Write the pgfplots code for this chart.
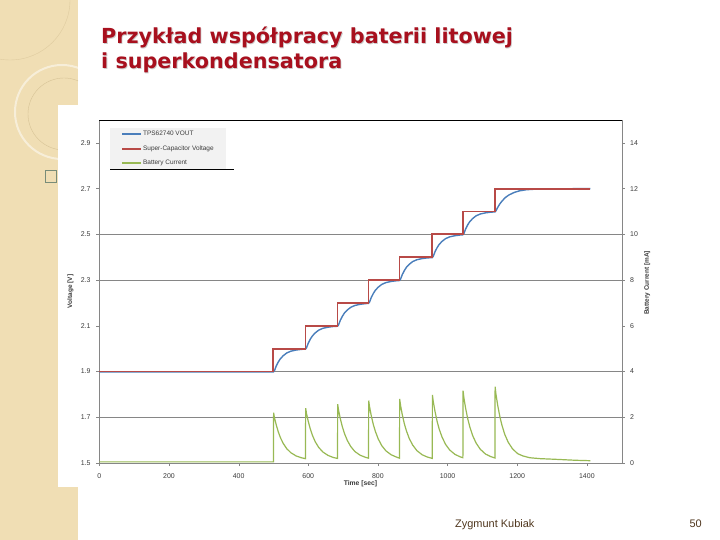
\documentclass[border=0pt]{standalone}
\usepackage{pgfplots}
\pgfplotsset{compat=1.18}
\usepackage{fontspec}
\setmainfont{Liberation Sans}
\newfontfamily\titlefont{DejaVu Sans}

\definecolor{strip}{RGB}{240,222,180}
\definecolor{stripline}{RGB}{215,195,150}
\definecolor{boxline}{RGB}{120,140,120}
\definecolor{titlered}{RGB}{168,16,30}
\definecolor{footbrown}{RGB}{80,55,30}
\definecolor{axisgray}{RGB}{134,134,134}
\definecolor{ticktext}{RGB}{60,60,60}
\definecolor{vout}{RGB}{74,126,187}
\definecolor{vcap}{RGB}{184,74,71}
\definecolor{ibat}{RGB}{152,185,84}
\definecolor{legfill}{RGB}{242,242,242}

\begin{document}
\begin{tikzpicture}
% slide
\fill[white] (0,0) rectangle (720bp,540bp);
\useasboundingbox (0,0) rectangle (720bp,540bp);
\fill[strip] (0,0) rectangle (78bp,540bp);
\begin{scope}
  \clip (0,0) rectangle (78bp,540bp);
  \draw[white,line width=2bp,opacity=0.5] (62bp,428bp) circle (47bp);
  \draw[stripline,line width=0.4bp] (64bp,426bp) circle (36bp);
  \draw[stripline,line width=0.4bp,opacity=0.7] (10bp,540bp) circle (60bp);
\end{scope}
\fill[white] (58bp,53bp) rectangle (100bp,435bp);
\draw[boxline,line width=0.6bp] (45.5bp,358bp) rectangle (56.5bp,369.5bp);

% title
\foreach \dx/\col/\op in {0.8bp/black/0.2, 0bp/titlered/1} {
  \node[anchor=base west,inner sep=0,text=\col,text opacity=\op,font=\titlefont\bfseries\fontsize{20.8}{25}\selectfont]
    at ([xshift=\dx,yshift=-\dx]101bp,496bp) {Przykład współpracy baterii litowej};
  \node[anchor=base west,inner sep=0,text=\col,text opacity=\op,font=\titlefont\bfseries\fontsize{20.8}{25}\selectfont]
    at ([xshift=\dx,yshift=-\dx]101bp,471bp) {i superkondensatora};
}

% footer
\node[anchor=base west,inner sep=0,text=footbrown,font=\fontsize{11}{13}\selectfont] at (455bp,12.5bp) {Zygmunt Kubiak};
\node[anchor=base east,inner sep=0,text=footbrown,font=\fontsize{11}{13}\selectfont] at (702bp,12.5bp) {50};

% voltage axis
\begin{axis}[
  at={(99.3bp,77bp)}, anchor=south west, scale only axis,
  width=522.4bp, height=343bp,
  xmin=0, xmax=1500, ymin=1.5, ymax=3.0,
  axis x line*=bottom, axis y line*=left,
  axis line style={draw=axisgray}, tick style={draw=axisgray},
  tick align=outside, major tick length=3bp,
  xtick={0,200,400,600,800,1000,1200,1400},
  ytick={1.5,1.7,1.9,2.1,2.3,2.5,2.7,2.9},
  yticklabels={1.5,1.7,1.9,2.1,2.3,2.5,2.7,2.9},
  extra y ticks={1.7,1.9,2.3,2.5}, extra y tick labels={},
  extra y tick style={grid=major},
  major grid style={draw=axisgray,line width=0.6bp},
  /pgf/number format/assume math mode=true,
  /pgf/number format/1000 sep={},
  ticklabel style={font=\fontsize{7}{8}\selectfont,text=ticktext},
  yticklabel style={xshift=-2.3bp},
  xticklabel style={yshift=-4.4bp},
  xlabel={Time [sec]}, ylabel={Voltage [V]},
  xlabel style={at={(axis description cs:0.5,-0.061)},anchor=center,font=\bfseries\fontsize{6.8}{8}\selectfont,text=ticktext},
  ylabel style={at={(axis description cs:-0.055,0.5)},anchor=center,font=\bfseries\fontsize{6.5}{8}\selectfont,text=ticktext},
  clip=false,
]
\addplot[vout,line width=1.4bp] coordinates {
(0,1.898)(500,1.898)(503,1.904)(508,1.924)(514,1.942)(520,1.956)(528,1.969)(538,1.981)(550,1.989)(565,1.994)(580,1.997)(592,1.998)
(595,2.004)(600,2.024)(606,2.042)(612,2.056)(620,2.069)(630,2.081)(642,2.089)(657,2.094)(672,2.097)(684,2.098)
(687,2.104)(692,2.124)(698,2.142)(704,2.156)(712,2.169)(722,2.181)(734,2.189)(749,2.194)(764,2.197)(773,2.198)
(776,2.204)(781,2.224)(787,2.242)(793,2.256)(801,2.269)(811,2.281)(823,2.289)(838,2.294)(853,2.297)(862,2.298)
(865,2.304)(870,2.324)(876,2.342)(882,2.356)(890,2.369)(900,2.381)(912,2.389)(927,2.394)(942,2.397)(956,2.398)
(959,2.404)(964,2.424)(970,2.442)(976,2.456)(984,2.469)(994,2.481)(1006,2.489)(1021,2.494)(1036,2.497)(1044,2.498)
(1047,2.504)(1052,2.524)(1058,2.542)(1064,2.556)(1072,2.569)(1082,2.581)(1094,2.589)(1109,2.594)(1124,2.597)(1136,2.598)
(1139,2.603)(1144,2.618)(1150,2.633)(1156,2.645)(1166,2.661)(1176,2.672)(1191,2.683)(1206,2.690)(1226,2.695)(1256,2.698)(1296,2.699)(1410,2.700)
};
\addplot[vcap,line width=1.9bp] coordinates {
(0,1.9)(500,1.9)(500,2.0)(592,2.0)(592,2.1)(684,2.1)(684,2.2)(773,2.2)(773,2.3)
(862,2.3)(862,2.4)(956,2.4)(956,2.5)(1044,2.5)(1044,2.6)(1136,2.6)(1136,2.7)(1410,2.7)
};
\draw[black,line width=0.8bp] (rel axis cs:0,1) -- (rel axis cs:1,1);
\end{axis}

% current axis
\begin{axis}[
  at={(99.3bp,77bp)}, anchor=south west, scale only axis,
  width=522.4bp, height=343bp,
  xmin=0, xmax=1500, ymin=0, ymax=15,
  axis x line=none, axis y line*=right,
  axis line style={draw=axisgray}, tick style={draw=axisgray},
  tick align=outside, major tick length=3bp,
  ytick={0,2,4,6,8,10,12,14},
  /pgf/number format/assume math mode=true,
  ticklabel style={font=\fontsize{7}{8}\selectfont,text=ticktext},
  yticklabel style={xshift=2bp},
  every axis y label/.style={at={(axis description cs:1.0487,0.525)},rotate=90,anchor=center,font=\bfseries\fontsize{6.5}{8}\selectfont,text=ticktext},
  ylabel={Battery Current [mA]},
  legend style={at={(axis description cs:0.0205,0.977)},anchor=north west,
    fill=legfill,draw=none,inner xsep=11bp,inner ysep=3bp,
    font=\fontsize{6.5}{7}\selectfont,text=ticktext,row sep=8.5bp,
    nodes={inner xsep=1bp,inner ysep=0pt,text height=4.5bp,text depth=1.5bp}},
  legend cell align=left,
  legend image code/.code={\draw[#1] (0bp,0bp) -- (19bp,0bp);},
  clip=false,
]
\addlegendimage{vout,line width=1.4bp}
\addlegendimage{vcap,line width=1.9bp}
\addplot[ibat,line width=1.2bp] coordinates {
(0,0.05)(500,0.05)(500.5,2.2)(503,1.98)(508,1.67)(514,1.36)(520,1.11)(528,0.86)(538,0.63)(550,0.45)(565,0.31)(580,0.23)(592,0.19)
(592.5,2.4)(595,2.16)(600,1.82)(606,1.48)(612,1.21)(620,0.93)(630,0.68)(642,0.48)(657,0.33)(672,0.24)(684,0.20)
(684.5,2.57)(687,2.31)(692,1.94)(698,1.58)(704,1.29)(712,0.99)(722,0.72)(734,0.50)(749,0.34)(764,0.25)(773,0.21)
(773.5,2.73)(776,2.46)(781,2.06)(787,1.67)(793,1.37)(801,1.05)(811,0.76)(823,0.53)(838,0.36)(853,0.26)(862,0.21)
(862.5,2.8)(865,2.52)(870,2.11)(876,1.71)(882,1.40)(890,1.07)(900,0.78)(912,0.54)(927,0.36)(942,0.26)(956,0.20)
(956.5,2.98)(959,2.68)(964,2.25)(970,1.82)(976,1.48)(984,1.14)(994,0.82)(1006,0.57)(1021,0.38)(1036,0.27)(1044,0.23)
(1044.5,3.16)(1047,2.84)(1052,2.38)(1058,1.93)(1064,1.57)(1072,1.20)(1082,0.87)(1094,0.60)(1109,0.39)(1124,0.28)(1136,0.22)
(1136.5,3.34)(1139,3.00)(1144,2.52)(1150,2.04)(1156,1.66)(1164,1.26)(1174,0.91)(1186,0.63)(1201,0.41)(1216,0.31)(1236,0.23)(1266,0.19)(1312,0.16)(1366,0.12)(1410,0.10)
};
\legend{TPS62740 VOUT,Super-Capacitor Voltage,Battery Current}
\draw[black,line width=0.8bp] (rel axis cs:0.0205,0.857) -- (rel axis cs:0.2586,0.857);
\end{axis}
\end{tikzpicture}
\end{document}
